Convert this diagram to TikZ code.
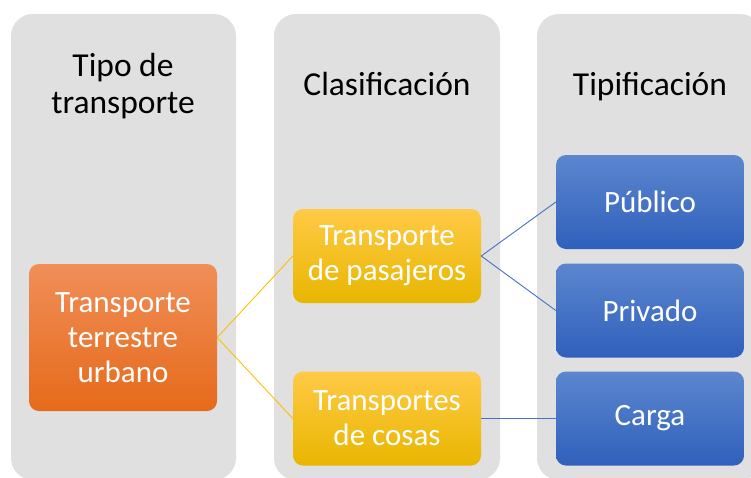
\documentclass[tikz,border=0pt]{standalone}
\usepackage{fontspec}
\setmainfont{Carlito}
\definecolor{panelgray}{RGB}{224,224,224}
\definecolor{orgtop}{RGB}{240,142,88}
\definecolor{orgbot}{RGB}{230,106,26}
\definecolor{yeltop}{RGB}{255,202,70}
\definecolor{yelbot}{RGB}{232,182,0}
\definecolor{yelline}{RGB}{255,192,0}
\definecolor{blutop}{RGB}{92,134,206}
\definecolor{blubot}{RGB}{47,96,188}
\definecolor{bluline}{RGB}{68,114,196}
\tikzset{
  panel/.style={fill=panelgray, draw=none, rounded corners=22pt},
  header/.style={text=black, align=center, font=\fontsize{33.5}{37}\selectfont, inner sep=0pt},
  boxbase/.style={draw=none, rounded corners=10pt, minimum width=188pt, text=white, align=center,
     font=\fontsize{31}{35}\selectfont, inner sep=0pt},
  orangebox/.style={boxbase, top color=orgtop, bottom color=orgbot, minimum height=147pt},
  yellowbox/.style={boxbase, top color=yeltop, bottom color=yelbot, minimum height=94pt},
  bluebox/.style={boxbase, top color=blutop, bottom color=blubot, minimum height=94pt},
  yconn/.style={draw=yelline, line width=0.9pt},
  bconn/.style={draw=bluline, line width=0.9pt}
}
\begin{document}
\begin{tikzpicture}[x=1pt,y=-1pt]
\useasboundingbox (0,0) rectangle (751,477);
\begin{scope}
\clip (0,0) rectangle (751,477);
\path[panel] (11,14) rectangle (236,480);
\path[panel] (274,14) rectangle (500,480);
\path[panel] (537,14) rectangle (762,480);
\end{scope}
\node[header] (h1) at (123,86) {Tipo de\\transporte};
\node[header, anchor=base] (h2) at (387,95) {Clasificación};
\node[header, anchor=base] (h3) at (650,95) {Tipificación};
\node[orangebox] (tu) at (123,337.5) {Transporte\\terrestre\\urbano};
\node[yellowbox] (tp) at (387,256) {Transporte\\de pasajeros};
\node[yellowbox] (tc) at (387,418.5) {Transportes\\de cosas};
\node[bluebox] (pu) at (650,202) {Público};
\node[bluebox] (pr) at (650,310.5) {Privado};
\node[bluebox] (ca) at (650,418.5) {Carga};
\draw[yconn] (tu.east) -- (tp.west);
\draw[yconn] (tu.east) -- (tc.west);
\draw[bconn] (tp.east) -- (pu.west);
\draw[bconn] (tp.east) -- (pr.west);
\draw[bconn] (tc.east) -- (ca.west);
\end{tikzpicture}
\end{document}
